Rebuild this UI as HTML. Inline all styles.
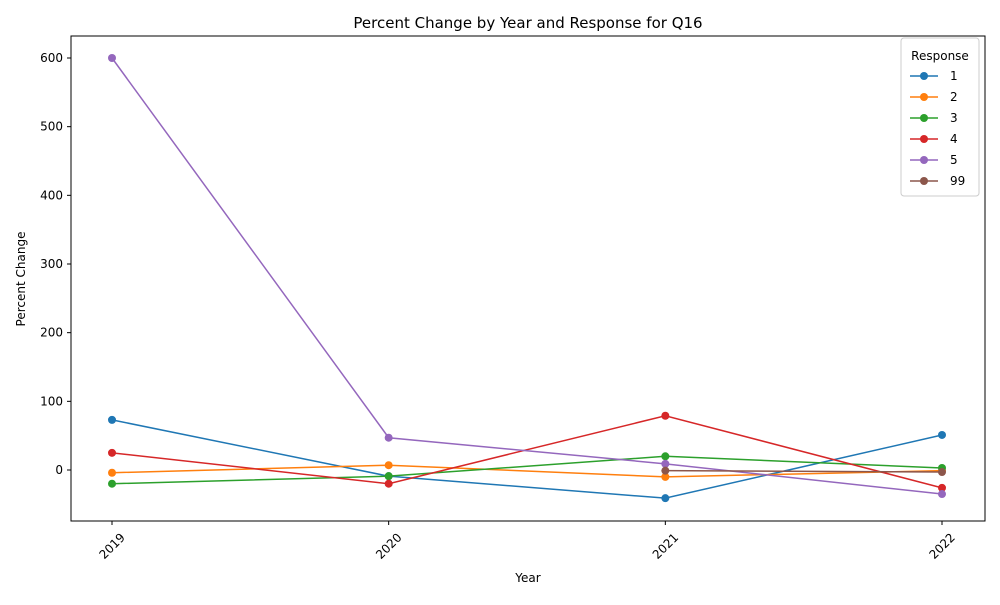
<!DOCTYPE html>
<html><head><meta charset="utf-8"><style>
body{margin:0;background:#fff;font-family:"Liberation Sans","DejaVu Sans",sans-serif}
text{font-family:"DejaVu Sans","Liberation Sans",sans-serif}
</style></head><body>
<svg id="chart" width="1000" height="600" xmlns="http://www.w3.org/2000/svg">
<rect width="1000" height="600" fill="#fff"/>
<text x="528" y="28" text-anchor="middle" font-size="15">Percent Change by Year and Response for Q16</text>
<g id="axes"></g><g id="series"></g><g id="legend"></g>
<rect x="71" y="36" width="914" height="485" fill="none" stroke="#000" stroke-width="1"/>
<text x="528" y="582" text-anchor="middle" font-size="12">Year</text>
<text transform="translate(25,279) rotate(-90)" text-anchor="middle" font-size="12">Percent Change</text>
</svg>
<script>
const years = ["2019","2020","2021","2022"];
const yTicks = [0,100,200,300,400,500,600];
const seriesNames = ["1","2","3","4","5","99"];
const colors = ["#1f77b4","#ff7f0e","#2ca02c","#d62728","#9467bd","#8c564b"];
const s1 = [73,-9,-41,51];
const s2 = [-4,7,-10,-1];
const s3 = [-20,-9,20,3];
const s4 = [25,-20,79,-26];
const s5 = [600,47,9,-35];
const s99 = [null,null,-1,-3];
const allSeries = [s1,s2,s3,s4,s5,s99];
const NS="http://www.w3.org/2000/svg";
const xs = i => 112 + i*(942-112)/(years.length-1);
const ys = v => 470 - v*(470-58)/600;
function mk(tag,attrs,parent){const e=document.createElementNS(NS,tag);for(const k in attrs)e.setAttribute(k,attrs[k]);parent.appendChild(e);return e;}
const ax=document.getElementById('axes');
yTicks.forEach(t=>{
  const l=mk('line',{x1:67,x2:71,y1:ys(t),y2:ys(t),stroke:'#000'},ax);
  
  
  const tx=mk('text',{x:63,y:ys(t)+4,'text-anchor':'end','font-size':12},ax);
  
  
  tx.textContent=t;
});
years.forEach((y,i)=>{
  const l=mk('line',{x1:xs(i),x2:xs(i),y1:521,y2:525,stroke:'#000'},ax);
  
  
  const tx=mk('text',{transform:`translate(${xs(i)+3},${549}) rotate(-45)`,'text-anchor':'middle','font-size':12},ax);
  
  
  tx.textContent=y;
});
const sg=document.getElementById('series');
allSeries.forEach((s,k)=>{
  const g=mk('g',{},sg);
  
  
  const pts=[];s.forEach((v,i)=>{if(v!==null)pts.push(xs(i)+','+ys(v));});
  const pl=mk('polyline',{points:pts.join(' '),fill:'none',stroke:colors[k],'stroke-width':1.5},g);
  
  
  s.forEach((v,i)=>{if(v===null)return;
    const c=mk('circle',{cx:xs(i),cy:ys(v),r:4,fill:colors[k]},g);
    
    
  });
});
const lg=document.getElementById('legend');
const box=mk('rect',{x:901,y:38,width:78,height:158,rx:3,fill:'#fff',stroke:'#ccc','fill-opacity':0.8},lg);


const lt=mk('text',{x:940,y:60,'text-anchor':'middle','font-size':12},lg);


lt.textContent='Response';
seriesNames.forEach((n,k)=>{
  const y=76+k*21;
  const g=mk('g',{},lg);
  
  
  mk('line',{x1:910,x2:938,y1:y,y2:y,stroke:colors[k],'stroke-width':1.5},g);
  mk('circle',{cx:924,cy:y,r:4,fill:colors[k]},g);
  const t=mk('text',{x:950,y:y+4,'font-size':12},g);
  t.textContent=n;
});
</script>
</body></html>
